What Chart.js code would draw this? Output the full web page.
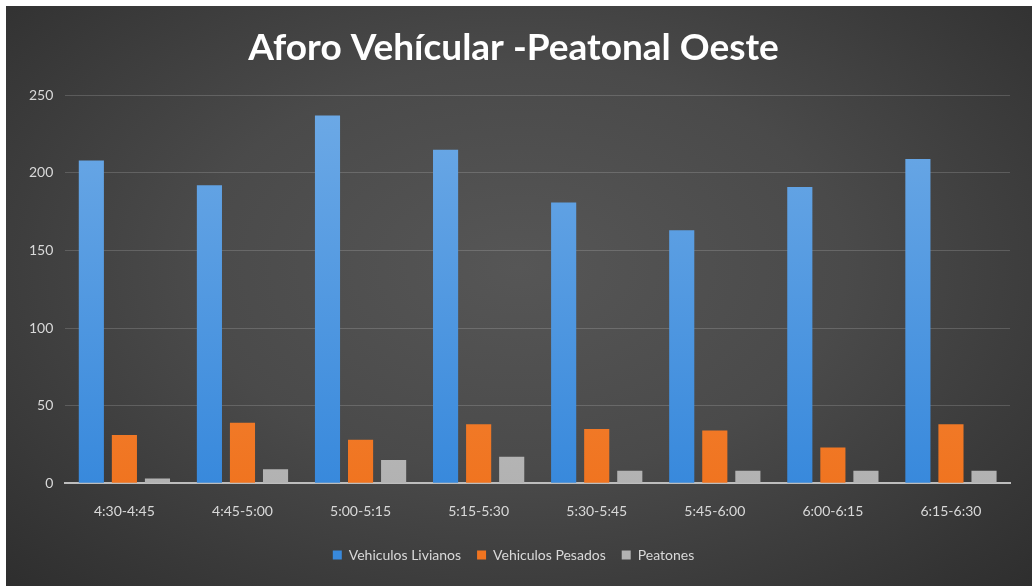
<!DOCTYPE html>
<html>
<head>
<meta charset="utf-8">
<title>Aforo Vehícular -Peatonal Oeste</title>
<script src="https://cdn.jsdelivr.net/npm/chart.js@4/dist/chart.umd.min.js"></script>
<style>
  html, body { margin: 0; padding: 0; background: #fff; }
  #wrap {
    position: absolute; left: 6px; top: 6px;
    width: 1026px; height: 580px;
    background: radial-gradient(ellipse at 50% 45%, #565656 0%, #4a4a4a 45%, #2e2e2e 100%);
  }
</style>
</head>
<body>
<div id="wrap"><canvas id="aforo"></canvas></div>
<script>
// categorias (intervalos de 15 min)
const labels = ['4:30-4:45', '4:45-5:00', '5:00-5:15', '5:15-5:30', '5:30-5:45', '5:45-6:00', '6:00-6:15', '6:15-6:30'];

// valores
const livianos = [208, 192, 237, 215, 181, 163, 191, 209];
const pesados  = [31, 39, 28, 38, 35, 34, 23, 38];
const peatones = [3, 9, 15, 17, 8, 8, 8, 8];

const yTicks = [0, 50, 100, 150, 200, 250];

// gradiente vertical para cada serie
function grad(top, bottom) {
  return (ctx) => {
    const area = ctx.chart.chartArea;
    if (!area) return bottom;
    const g = ctx.chart.ctx.createLinearGradient(0, area.top, 0, area.bottom);
    g.addColorStop(0, top);
    g.addColorStop(1, bottom);
    return g;
  };
}

const txt = '#d9d9d9';
const fam = "Lato, 'Open Sans', sans-serif";

new Chart(document.getElementById('aforo'), {
  type: 'bar',
  data: {
    labels,
    datasets: [
      { label: 'Vehiculos Livianos', data: livianos, backgroundColor: grad('#6eaae6', '#3889dc') },
      { label: 'Vehiculos Pesados',  data: pesados,  backgroundColor: grad('#f5934a', '#f07420') },
      { label: 'Peatones',           data: peatones, backgroundColor: grad('#cfcfcf', '#b2b2b2') }
    ]
  },
  options: {
    responsive: true,
    maintainAspectRatio: false,
    animation: false,
    datasets: { bar: { categoryPercentage: 0.84, barPercentage: 0.76 } },
    layout: { padding: { left: 11, right: 22, top: 20, bottom: 14 } },
    plugins: {
      title: {
        display: true,
        text: 'Aforo Vehícular -Peatonal Oeste',
        color: '#ffffff',
        font: { family: fam, size: 37, weight: 'bold' },
        padding: { top: 0, bottom: 25 }
      },
      legend: {
        position: 'bottom',
        labels: {
          color: txt,
          font: { family: fam, size: 14 },
          boxWidth: 9,
          boxHeight: 9,
          padding: 16
        }
      },
      tooltip: { enabled: false }
    },
    scales: {
      x: {
        grid: { display: false },
        border: { color: '#bdbdbd', width: 2 },
        ticks: { color: txt, font: { family: fam, size: 14 }, padding: 12 }
      },
      y: {
        min: 0,
        max: 250,
        afterBuildTicks: (axis) => { axis.ticks = yTicks.map(v => ({ value: v })); },
        grid: { color: 'rgba(255,255,255,0.16)', drawTicks: false },
        border: { display: false },
        ticks: { color: txt, font: { family: fam, size: 14 }, padding: 12 }
      }
    }
  }
});
</script>
</body>
</html>
